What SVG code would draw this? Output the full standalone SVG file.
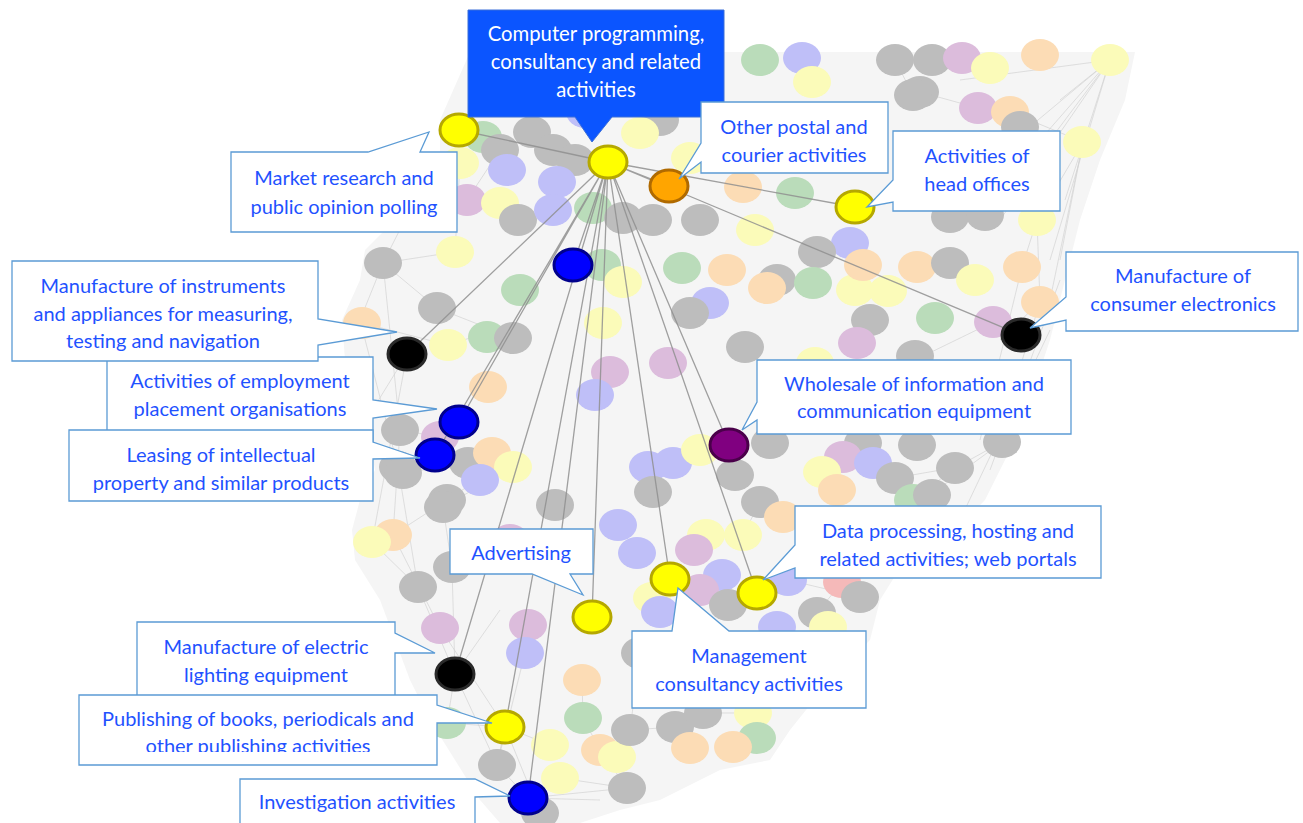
<svg xmlns="http://www.w3.org/2000/svg" width="1303" height="823" viewBox="0 0 1303 823">
<style>
.hull{fill:#f5f5f5;stroke:none}
.e{stroke:#d2d2d2;stroke-width:0.7;fill:none}
.bg ellipse{stroke:none}
.g{fill:#bdbdbd}.y{fill:#fbfbb9}.gr{fill:#badcba}.b{fill:#bfbff8}.p{fill:#dcbcdc}.o{fill:#fcdcb5}.r{fill:#f5b9b9}
.link{stroke:#8f8f8f;stroke-width:1.3;fill:none;opacity:0.85}
.n{stroke-width:3}
.ny{fill:#ffff00;stroke:#b5a800}.no{fill:#ffa500;stroke:#b06a00}.nk{fill:#000;stroke:#2a2a2a}.nb{fill:#0000ff;stroke:#00008c}.np{fill:#800080;stroke:#4a004a}
.co{fill:#fff;stroke:#5b9bd5;stroke-width:1.3}
.cob{fill:#0b55ff;stroke:#3a6fd8;stroke-width:1}
.t{font-family:Lato,'Liberation Sans',sans-serif;font-size:20px;fill:#1f52ff;text-anchor:middle}
.tw{fill:#ffffff;font-size:20.3px}
</style>
<defs>
<clipPath id="pubclip"><rect x="79" y="696" width="358" height="56"/></clipPath>
</defs>
<g id="background">
<polygon class="hull" points="470,52 1135,52 1125,100 1100,160 1080,220 1065,280 1050,340 1030,400 1010,450 985,500 960,525 905,560 880,600 870,640 830,680 790,730 770,760 720,770 660,800 620,810 580,823 500,823 480,800 455,760 430,720 410,680 395,640 380,600 355,560 352,530 360,500 375,470 370,440 360,400 345,360 342,320 360,280 365,250 395,220 420,190 440,160 440,120"/>
<path class="e" d="M1110,60L1060,100M1110,60L1040,140M1110,60L1020,180M1110,60L1000,220M1110,60L1065,200M1110,60L960,80M1110,60L990,160M1110,60L1050,260M1083,142L1037,220M1083,142L1050,300M1083,142L1060,260M1083,142L1010,112M1037,220L1022,267M1037,220L1040,302M1040,302L1000,340M1040,302L1010,400M1022,267L980,440M1060,280L990,470M1050,330L960,520M383,263L360,320M383,263L400,430M383,263L437,308M383,263L455,252M383,263L420,190M360,320L398,467M362,323L448,345M407,354L360,430M407,354L372,542M400,430L393,535M398,467L418,587M393,535L440,628M418,587L455,674M452,567L455,674M440,628L505,727M455,674L447,723M455,674L497,765M455,674L500,610M505,727L497,765M505,727L540,813M505,727L550,745M505,727L447,723M528,798L540,813M528,798L560,778M528,798L497,765M528,798L600,800M528,798L627,788M560,778L627,788M600,750L627,788M630,730L675,727M703,713L753,713M757,738L733,747M817,613L828,627M860,597L788,580M842,582L817,613M955,468L913,500M1002,442L930,495M1002,442L955,468M958,467L895,478M760,502L743,535M783,517L760,502M448,345L473,337M437,308L513,338M513,467L443,507M468,463L403,473M447,500L393,535M440,437L400,430M473,483L447,500M372,542L418,587M452,567L443,507M583,718L600,750M582,680L583,718M640,653L630,730M528,625L525,653M525,653L497,765M500,150L467,200M460,163L455,252M553,210L518,220M483,137L500,150M920,92L978,108M978,108L1020,127M913,95L895,60M950,217L973,215M870,320L857,343M915,360L993,322"/>
</g>
<g id="bg-nodes" class="bg">
<ellipse class="gr" cx="760" cy="60" rx="19" ry="16"/>
<ellipse class="b" cx="802" cy="58" rx="19" ry="16"/>
<ellipse class="y" cx="812" cy="82" rx="19" ry="16"/>
<ellipse class="g" cx="895" cy="60" rx="19" ry="16"/>
<ellipse class="g" cx="932" cy="60" rx="19" ry="16"/>
<ellipse class="p" cx="962" cy="58" rx="19" ry="16"/>
<ellipse class="y" cx="990" cy="68" rx="19" ry="16"/>
<ellipse class="o" cx="1040" cy="55" rx="19" ry="16"/>
<ellipse class="y" cx="1110" cy="60" rx="19" ry="16"/>
<ellipse class="g" cx="920" cy="92" rx="19" ry="16"/>
<ellipse class="p" cx="978" cy="108" rx="19" ry="16"/>
<ellipse class="o" cx="1010" cy="112" rx="19" ry="16"/>
<ellipse class="g" cx="1020" cy="127" rx="19" ry="16"/>
<ellipse class="y" cx="1082" cy="142" rx="19" ry="16"/>
<ellipse class="g" cx="660" cy="120" rx="19" ry="16"/>
<ellipse class="y" cx="640" cy="133" rx="19" ry="16"/>
<ellipse class="y" cx="690" cy="158" rx="19" ry="16"/>
<ellipse class="b" cx="585" cy="112" rx="19" ry="16"/>
<ellipse class="gr" cx="483" cy="137" rx="19" ry="16"/>
<ellipse class="g" cx="500" cy="150" rx="19" ry="16"/>
<ellipse class="g" cx="532" cy="132" rx="19" ry="16"/>
<ellipse class="g" cx="553" cy="150" rx="19" ry="16"/>
<ellipse class="g" cx="575" cy="160" rx="19" ry="16"/>
<ellipse class="b" cx="507" cy="170" rx="19" ry="16"/>
<ellipse class="b" cx="557" cy="182" rx="19" ry="16"/>
<ellipse class="y" cx="460" cy="163" rx="19" ry="16"/>
<ellipse class="p" cx="467" cy="200" rx="19" ry="16"/>
<ellipse class="y" cx="500" cy="203" rx="19" ry="16"/>
<ellipse class="g" cx="518" cy="220" rx="19" ry="16"/>
<ellipse class="b" cx="553" cy="210" rx="19" ry="16"/>
<ellipse class="gr" cx="593" cy="208" rx="19" ry="16"/>
<ellipse class="g" cx="623" cy="218" rx="19" ry="16"/>
<ellipse class="g" cx="653" cy="220" rx="19" ry="16"/>
<ellipse class="g" cx="700" cy="220" rx="19" ry="16"/>
<ellipse class="o" cx="743" cy="187" rx="19" ry="16"/>
<ellipse class="gr" cx="795" cy="193" rx="19" ry="16"/>
<ellipse class="y" cx="755" cy="230" rx="19" ry="16"/>
<ellipse class="b" cx="850" cy="243" rx="19" ry="16"/>
<ellipse class="g" cx="817" cy="252" rx="19" ry="16"/>
<ellipse class="g" cx="913" cy="95" rx="19" ry="16"/>
<ellipse class="g" cx="950" cy="217" rx="19" ry="16"/>
<ellipse class="g" cx="985" cy="215" rx="19" ry="16"/>
<ellipse class="y" cx="1037" cy="220" rx="19" ry="16"/>
<ellipse class="y" cx="455" cy="252" rx="19" ry="16"/>
<ellipse class="g" cx="383" cy="263" rx="19" ry="16"/>
<ellipse class="gr" cx="602" cy="265" rx="19" ry="16"/>
<ellipse class="y" cx="623" cy="282" rx="19" ry="16"/>
<ellipse class="gr" cx="682" cy="268" rx="19" ry="16"/>
<ellipse class="o" cx="727" cy="270" rx="19" ry="16"/>
<ellipse class="g" cx="777" cy="280" rx="19" ry="16"/>
<ellipse class="o" cx="767" cy="288" rx="19" ry="16"/>
<ellipse class="b" cx="710" cy="303" rx="19" ry="16"/>
<ellipse class="g" cx="690" cy="313" rx="19" ry="16"/>
<ellipse class="gr" cx="520" cy="290" rx="19" ry="16"/>
<ellipse class="g" cx="437" cy="308" rx="19" ry="16"/>
<ellipse class="o" cx="362" cy="323" rx="19" ry="16"/>
<ellipse class="y" cx="448" cy="345" rx="19" ry="16"/>
<ellipse class="gr" cx="487" cy="337" rx="19" ry="16"/>
<ellipse class="g" cx="513" cy="338" rx="19" ry="16"/>
<ellipse class="y" cx="603" cy="323" rx="19" ry="16"/>
<ellipse class="g" cx="745" cy="347" rx="19" ry="16"/>
<ellipse class="p" cx="610" cy="372" rx="19" ry="16"/>
<ellipse class="p" cx="668" cy="363" rx="19" ry="16"/>
<ellipse class="b" cx="595" cy="395" rx="19" ry="16"/>
<ellipse class="o" cx="488" cy="387" rx="19" ry="16"/>
<ellipse class="g" cx="400" cy="430" rx="19" ry="16"/>
<ellipse class="p" cx="440" cy="437" rx="19" ry="16"/>
<ellipse class="g" cx="468" cy="463" rx="19" ry="16"/>
<ellipse class="o" cx="492" cy="453" rx="19" ry="16"/>
<ellipse class="y" cx="513" cy="467" rx="19" ry="16"/>
<ellipse class="b" cx="648" cy="467" rx="19" ry="16"/>
<ellipse class="b" cx="673" cy="463" rx="19" ry="16"/>
<ellipse class="y" cx="700" cy="450" rx="19" ry="16"/>
<ellipse class="g" cx="770" cy="443" rx="19" ry="16"/>
<ellipse class="g" cx="735" cy="475" rx="19" ry="16"/>
<ellipse class="g" cx="398" cy="467" rx="19" ry="16"/>
<ellipse class="b" cx="480" cy="480" rx="19" ry="16"/>
<ellipse class="g" cx="447" cy="500" rx="19" ry="16"/>
<ellipse class="gr" cx="813" cy="283" rx="19" ry="16"/>
<ellipse class="y" cx="855" cy="290" rx="19" ry="16"/>
<ellipse class="y" cx="888" cy="291" rx="19" ry="16"/>
<ellipse class="o" cx="863" cy="265" rx="19" ry="16"/>
<ellipse class="o" cx="917" cy="267" rx="19" ry="16"/>
<ellipse class="g" cx="950" cy="263" rx="19" ry="16"/>
<ellipse class="y" cx="975" cy="280" rx="19" ry="16"/>
<ellipse class="o" cx="1022" cy="267" rx="19" ry="16"/>
<ellipse class="o" cx="1040" cy="302" rx="19" ry="16"/>
<ellipse class="g" cx="870" cy="320" rx="19" ry="16"/>
<ellipse class="gr" cx="935" cy="318" rx="19" ry="16"/>
<ellipse class="p" cx="993" cy="322" rx="19" ry="16"/>
<ellipse class="p" cx="857" cy="343" rx="19" ry="16"/>
<ellipse class="y" cx="815" cy="363" rx="19" ry="16"/>
<ellipse class="g" cx="915" cy="356" rx="19" ry="16"/>
<ellipse class="g" cx="863" cy="443" rx="19" ry="16"/>
<ellipse class="p" cx="843" cy="457" rx="19" ry="16"/>
<ellipse class="b" cx="873" cy="463" rx="19" ry="16"/>
<ellipse class="g" cx="917" cy="445" rx="19" ry="16"/>
<ellipse class="g" cx="1002" cy="442" rx="19" ry="16"/>
<ellipse class="y" cx="822" cy="472" rx="19" ry="16"/>
<ellipse class="o" cx="837" cy="490" rx="19" ry="16"/>
<ellipse class="g" cx="895" cy="478" rx="19" ry="16"/>
<ellipse class="g" cx="955" cy="468" rx="19" ry="16"/>
<ellipse class="gr" cx="913" cy="500" rx="19" ry="16"/>
<ellipse class="g" cx="932" cy="495" rx="19" ry="16"/>
<ellipse class="g" cx="760" cy="502" rx="19" ry="16"/>
<ellipse class="o" cx="783" cy="517" rx="19" ry="16"/>
<ellipse class="y" cx="743" cy="535" rx="19" ry="16"/>
<ellipse class="b" cx="788" cy="580" rx="19" ry="16"/>
<ellipse class="r" cx="842" cy="582" rx="19" ry="16"/>
<ellipse class="g" cx="860" cy="597" rx="19" ry="16"/>
<ellipse class="g" cx="817" cy="613" rx="19" ry="16"/>
<ellipse class="y" cx="828" cy="627" rx="19" ry="16"/>
<ellipse class="b" cx="777" cy="627" rx="19" ry="16"/>
<ellipse class="g" cx="403" cy="473" rx="19" ry="16"/>
<ellipse class="g" cx="443" cy="507" rx="19" ry="16"/>
<ellipse class="o" cx="393" cy="535" rx="19" ry="16"/>
<ellipse class="y" cx="372" cy="542" rx="19" ry="16"/>
<ellipse class="g" cx="418" cy="587" rx="19" ry="16"/>
<ellipse class="g" cx="452" cy="567" rx="19" ry="16"/>
<ellipse class="p" cx="440" cy="628" rx="19" ry="16"/>
<ellipse class="p" cx="528" cy="625" rx="19" ry="16"/>
<ellipse class="b" cx="525" cy="653" rx="19" ry="16"/>
<ellipse class="o" cx="582" cy="680" rx="19" ry="16"/>
<ellipse class="gr" cx="583" cy="718" rx="19" ry="16"/>
<ellipse class="gr" cx="447" cy="723" rx="19" ry="16"/>
<ellipse class="y" cx="550" cy="745" rx="19" ry="16"/>
<ellipse class="o" cx="600" cy="750" rx="19" ry="16"/>
<ellipse class="y" cx="617" cy="757" rx="19" ry="16"/>
<ellipse class="g" cx="497" cy="765" rx="19" ry="16"/>
<ellipse class="g" cx="627" cy="788" rx="19" ry="16"/>
<ellipse class="y" cx="560" cy="778" rx="19" ry="16"/>
<ellipse class="g" cx="540" cy="813" rx="19" ry="16"/>
<ellipse class="g" cx="630" cy="730" rx="19" ry="16"/>
<ellipse class="g" cx="675" cy="727" rx="19" ry="16"/>
<ellipse class="g" cx="703" cy="713" rx="19" ry="16"/>
<ellipse class="y" cx="753" cy="713" rx="19" ry="16"/>
<ellipse class="gr" cx="757" cy="738" rx="19" ry="16"/>
<ellipse class="o" cx="690" cy="748" rx="19" ry="16"/>
<ellipse class="o" cx="733" cy="747" rx="19" ry="16"/>
<ellipse class="b" cx="618" cy="525" rx="19" ry="16"/>
<ellipse class="b" cx="637" cy="553" rx="19" ry="16"/>
<ellipse class="g" cx="653" cy="492" rx="19" ry="16"/>
<ellipse class="y" cx="652" cy="598" rx="19" ry="16"/>
<ellipse class="g" cx="640" cy="653" rx="19" ry="16"/>
<ellipse class="y" cx="706" cy="535" rx="19" ry="16"/>
<ellipse class="p" cx="694" cy="550" rx="19" ry="16"/>
<ellipse class="b" cx="722" cy="575" rx="19" ry="16"/>
<ellipse class="p" cx="700" cy="590" rx="19" ry="16"/>
<ellipse class="g" cx="728" cy="605" rx="19" ry="16"/>
<ellipse class="b" cx="660" cy="612" rx="19" ry="16"/>
<ellipse class="g" cx="555" cy="505" rx="19" ry="16"/>
<ellipse class="p" cx="510" cy="540" rx="19" ry="16"/>
</g>
<g id="connectors">
<path class="link" d="M608,162L459,130M608,162L669,186M608,162L855,207M608,162L1021,335M608,162L573,265M608,162L407,354M608,162L459,422M608,162L435,455M608,162L729,445M608,162L592,617M608,162L670,579M608,162L757,593M608,162L455,674M608,162L505,727M608,162L528,798"/>
</g>
<g id="nodes">
<g id="node-computer-programming"><ellipse class="n ny" cx="608" cy="162" rx="19" ry="16"/></g>
<g id="node-market-research"><ellipse class="n ny" cx="459" cy="130" rx="19" ry="16"/></g>
<g id="node-postal"><ellipse class="n no" cx="669" cy="186" rx="19" ry="16"/></g>
<g id="node-head-offices"><ellipse class="n ny" cx="855" cy="207" rx="19" ry="16"/></g>
<g id="node-consumer-electronics"><ellipse class="n nk" cx="1021" cy="335" rx="19" ry="16"/></g>
<g id="node-blue-unlabelled"><ellipse class="n nb" cx="573" cy="265" rx="19" ry="16"/></g>
<g id="node-instruments"><ellipse class="n nk" cx="407" cy="354" rx="19" ry="16"/></g>
<g id="node-employment"><ellipse class="n nb" cx="459" cy="422" rx="19" ry="16"/></g>
<g id="node-leasing"><ellipse class="n nb" cx="435" cy="455" rx="19" ry="16"/></g>
<g id="node-wholesale"><ellipse class="n np" cx="729" cy="445" rx="19" ry="16"/></g>
<g id="node-advertising"><ellipse class="n ny" cx="592" cy="617" rx="19" ry="16"/></g>
<g id="node-management"><ellipse class="n ny" cx="670" cy="579" rx="19" ry="16"/></g>
<g id="node-data-processing"><ellipse class="n ny" cx="757" cy="593" rx="19" ry="16"/></g>
<g id="node-electric-lighting"><ellipse class="n nk" cx="455" cy="674" rx="19" ry="16"/></g>
<g id="node-publishing"><ellipse class="n ny" cx="505" cy="727" rx="19" ry="16"/></g>
<g id="node-investigation"><ellipse class="n nb" cx="528" cy="798" rx="19" ry="16"/></g>
</g>
<g id="labels">
<g id="label-computer-programming">
<path class="cob" d="M468,10H724V117H612L592,142L575,117H468Z"/>
<text class="t tw" x="596" y="41">Computer programming,</text>
<text class="t tw" x="596" y="69">consultancy and related</text>
<text class="t tw" x="596" y="97">activities</text>
</g>
<g id="label-market-research">
<path class="co" d="M231,152H368L429,132L420,152H457V232H231Z"/>
<text class="t" x="344" y="185">Market research and</text>
<text class="t" x="344" y="214">public opinion polling</text>
</g>
<g id="label-postal">
<path class="co" d="M701,102H888V173H701V162L679,179L701,143Z"/>
<text class="t" x="794" y="134">Other postal and</text>
<text class="t" x="794" y="162">courier activities</text>
</g>
<g id="label-head-offices">
<path class="co" d="M893,131H1060V211H893V202L867,207L893,180Z"/>
<text class="t" x="977" y="163">Activities of</text>
<text class="t" x="977" y="191">head offices</text>
</g>
<g id="label-consumer-electronics">
<path class="co" d="M1066,252H1298V331H1066V320L1030,328L1066,297Z"/>
<text class="t" x="1183" y="283">Manufacture of</text>
<text class="t" x="1183" y="311">consumer electronics</text>
</g>
<g id="label-employment">
<path class="co" d="M107,357H373V400L437,409L373,418V445H107Z"/>
<text class="t" x="240" y="388">Activities of employment</text>
<text class="t" x="240" y="416">placement organisations</text>
</g>
<g id="label-instruments">
<path class="co" d="M12,261H318V319L397,332L318,345V361H12Z"/>
<text class="t" x="163" y="293">Manufacture of instruments</text>
<text class="t" x="163" y="321">and appliances for measuring,</text>
<text class="t" x="163" y="348">testing and navigation</text>
</g>
<g id="label-leasing">
<path class="co" d="M69,430H373V442L420,458L373,459V501H69Z"/>
<text class="t" x="221" y="462">Leasing of intellectual</text>
<text class="t" x="221" y="490">property and similar products</text>
</g>
<g id="label-wholesale">
<path class="co" d="M757,360H1071V434H757V420L742,430L757,402Z"/>
<text class="t" x="914" y="391">Wholesale of information and</text>
<text class="t" x="914" y="418">communication equipment</text>
</g>
<g id="label-advertising">
<path class="co" d="M450,529H593V574H570L583,595L532,574H450Z"/>
<text class="t" x="521" y="560">Advertising</text>
</g>
<g id="label-data-processing">
<path class="co" d="M795,506H1101V578H795V568L763,580L795,545Z"/>
<text class="t" x="948" y="538">Data processing, hosting and</text>
<text class="t" x="948" y="566">related activities; web portals</text>
</g>
<g id="label-management">
<path class="co" d="M632,631H672L678,588L729,631H866V708H632Z"/>
<text class="t" x="749" y="663">Management</text>
<text class="t" x="749" y="691">consultancy activities</text>
</g>
<g id="label-electric-lighting">
<path class="co" d="M137,622H395V633L435,653L395,653V700H137Z"/>
<text class="t" x="266" y="654">Manufacture of electric</text>
<text class="t" x="266" y="682">lighting equipment</text>
</g>
<g id="label-publishing">
<path class="co" d="M79,695H437V705L492,723L437,723V765H79Z"/>
<text class="t" x="258" y="726">Publishing of books, periodicals and</text>
<text class="t" x="258" y="753" clip-path="url(#pubclip)">other publishing activities</text>
</g>
<g id="label-investigation">
<path class="co" d="M240,779H475L510,796L475,797V830H240Z"/>
<text class="t" x="357" y="809">Investigation activities</text>
</g>
</g>
</svg>
